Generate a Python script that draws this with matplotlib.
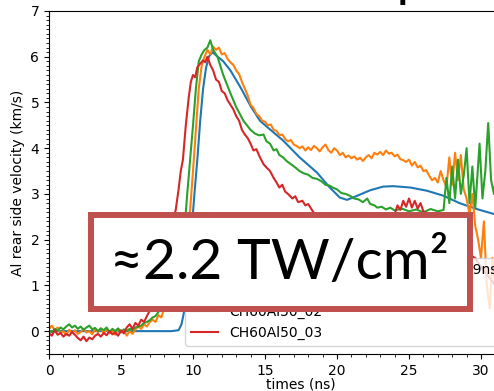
import matplotlib
matplotlib.use("Agg")
import matplotlib.pyplot as plt
from matplotlib.ticker import AutoMinorLocator, MultipleLocator
from matplotlib.patches import Rectangle

# data ################################################################################
sim_t = [0, 6, 8.5, 9.0, 9.2, 9.4, 9.6, 9.8, 10.0, 10.1, 10.3, 10.5, 10.7, 10.9, 11.1, 11.35, 11.6,
         12.1, 12.6, 13.3, 14.0, 14.65, 15.2, 16.25, 17.4, 18.6, 19.5, 20.2, 20.7, 21.4, 22.3, 23.2,
         23.9, 25.1, 26.25, 27.4, 28.5, 29.7, 30.8, 32, 35]
sim_v = [0, 0, 0, 0.02, 0.15, 0.45, 1.0, 1.8, 2.6, 3.0, 3.75, 4.6, 5.3, 5.75, 6.0, 6.1, 6.03,
         5.9, 5.7, 5.33, 4.92, 4.6, 4.45, 4.17, 3.8, 3.47, 3.14, 2.92, 2.87, 2.96, 3.08, 3.16,
         3.17, 3.14, 3.07, 2.96, 2.8, 2.67, 2.57, 2.47, 2.3]

s01_t = [0, 0.2, 0.4, 0.6, 0.8, 1.0, 1.2, 1.4, 1.6, 1.8, 2.0, 2.2, 2.4, 2.6, 2.8, 3.0, 3.2, 3.4, 3.6, 3.8,
         4.0, 4.2, 4.4, 4.6, 4.8, 5.0, 5.2, 5.4, 5.6, 5.8, 6.0, 6.2, 6.4, 6.6, 6.8, 7.0, 7.2, 7.4, 7.6, 7.8,
         8.0, 8.5, 9.0, 9.4, 9.8, 10.0, 10.2, 10.4, 10.6, 10.8, 11.0, 11.2, 11.4, 11.6, 11.8, 12.0, 12.2,
         12.4, 12.6, 12.8, 13.0, 13.2, 13.4, 13.6, 13.8, 14.0, 14.2, 14.4, 14.6, 14.8, 15.0, 15.2, 15.4,
         15.6, 15.8, 16.0, 16.2, 16.4, 16.6, 16.8, 17.0, 17.2, 17.4, 17.6, 17.8, 18.0, 18.2, 18.4, 18.6,
         18.8, 19.0, 19.2, 19.4, 19.6, 19.8, 20.0, 20.2, 20.4, 20.6, 20.8, 21.0, 21.2, 21.4, 21.6, 21.8,
         22.0, 22.2, 22.4, 22.6, 22.8, 23.0, 23.2, 23.4, 23.6, 23.8, 24.0, 24.2, 24.4, 24.6, 24.8, 25.0,
         25.2, 25.4, 25.6, 25.8, 26.0, 26.2, 26.4, 26.6, 26.8, 27.0, 27.2, 27.4, 27.6, 27.8, 28.0, 28.2,
         28.4, 28.6, 28.8, 29.0, 29.2, 29.4, 29.6, 29.8, 30.0, 30.2, 30.4, 30.6, 30.8, 31.0, 31.2, 31.5, 32]
s01_v = [0.05, 0.12, 0.02, 0.08, -0.05, 0.0, -0.08, 0.03, -0.04, 0.02, -0.06, -0.02, 0.05, -0.03, 0.0,
         -0.07, 0.04, -0.02, 0.06, -0.04, 0.03, -0.05, 0.01, -0.08, 0.05, -0.03, 0.02, -0.1, 0.0, -0.06,
         0.04, 0.1, 0.05, 0.15, 0.1, 0.2, 0.25, 0.2, 0.35, 0.3,
         0.5, 0.9, 1.5, 2.1, 2.65, 3.5, 4.4, 5.3, 5.8, 6.0, 6.15, 6.05, 6.22, 6.15, 6.2, 6.05, 6.08,
         5.95, 5.88, 5.82, 5.7, 5.62, 5.45, 5.3, 5.15, 4.95, 4.88, 4.75, 4.7, 4.6, 4.58, 4.5, 4.52,
         4.4, 4.38, 4.28, 4.3, 4.2, 4.15, 4.18, 4.08, 4.05, 4.0, 4.04, 3.95, 4.02, 3.96, 4.05, 4.0,
         3.93, 4.02, 4.08, 3.96, 3.9, 4.0, 3.95, 3.85, 3.9, 3.8, 3.84, 3.78, 3.82, 3.75, 3.79, 3.72,
         3.8, 3.85, 3.78, 3.9, 3.86, 3.92, 3.85, 3.95, 3.88, 3.9, 3.82, 3.86, 3.76, 3.74, 3.7, 3.75,
         3.62, 3.7, 3.58, 3.62, 3.5, 3.52, 3.4, 3.3, 3.35, 3.25, 3.5, 3.3, 3.15, 3.8, 3.2, 3.9,
         3.3, 3.85, 3.1, 2.9, 2.55, 3.0, 2.3, 2.0, 1.6, 2.4, 1.0, 0.5, 1.6, 0.9, 1.8, 1.2, 1.0]

s02_t = [0, 0.2, 0.4, 0.6, 0.8, 1.0, 1.2, 1.4, 1.6, 1.8, 2.0, 2.2, 2.4, 2.6, 2.8, 3.0, 3.2, 3.4, 3.6, 3.8,
         4.0, 4.2, 4.4, 4.6, 4.8, 5.0, 5.2, 5.4, 5.6, 5.8, 6.0, 6.2, 6.4, 6.6, 6.8, 7.0, 7.2, 7.4, 7.6,
         8.0, 8.4, 8.8, 9.2, 9.5, 9.6, 9.8, 10.0, 10.2, 10.4, 10.6, 10.8, 11.0, 11.2, 11.4, 11.7, 11.9,
         12.1, 12.35, 12.6, 12.8, 13.0, 13.25, 13.5, 13.75, 14.0, 14.3, 14.6, 14.9, 15.1, 15.35, 15.6,
         15.8, 16.0, 16.25, 16.5, 16.8, 17.1, 17.4, 17.7, 18.0, 18.3, 18.6, 18.9, 19.2, 19.5, 19.7, 20.0,
         20.3, 20.6, 20.9, 21.2, 21.5, 21.8, 22.1, 22.3, 22.6, 22.8, 23.1, 23.4, 23.7, 24.0, 24.5, 25.0,
         25.5, 26.0, 26.5, 27.0, 27.4, 27.6, 27.8, 28.0, 28.2, 28.4, 28.6, 28.8, 29.0, 29.2, 29.4, 29.6,
         29.9, 30.1, 30.3, 30.5, 30.7, 30.9, 31.1, 31.3, 31.6, 32]
s02_v = [0.02, -0.03, 0.05, 0.0, 0.08, 0.04, 0.1, 0.15, 0.08, 0.12, 0.05, 0.1, 0.03, 0.08, 0.12, 0.04,
         0.07, 0.0, 0.06, 0.02, 0.08, -0.02, 0.05, 0.0, 0.06, -0.03, 0.04, 0.0, 0.05, 0.03, 0.08, 0.1,
         0.12, 0.18, 0.2, 0.24, 0.3, 0.33, 0.42,
         0.7, 1.1, 1.6, 2.2, 2.6, 3.0, 3.75, 4.5, 5.3, 5.9, 6.05, 6.15, 6.2, 6.36, 6.15, 6.0, 5.8,
         5.6, 5.4, 5.2, 5.05, 4.9, 4.75, 4.6, 4.5, 4.4, 4.32, 4.28, 4.3, 4.15, 4.1, 3.95,
         3.98, 3.85, 3.8, 3.72, 3.65, 3.58, 3.5, 3.45, 3.42, 3.35, 3.33, 3.28, 3.2, 3.18, 3.14, 3.1,
         3.02, 3.0, 2.96, 2.9, 2.88, 2.82, 2.9, 2.78, 2.75, 2.7, 2.72, 2.66, 2.7, 2.64, 2.68, 2.62,
         2.66, 2.6, 2.67, 2.62, 2.65, 3.35, 2.8, 3.6, 2.9, 3.75, 3.0, 3.4, 4.0, 2.8, 3.6, 2.7,
         4.1, 2.9, 3.5, 4.55, 3.3, 3.0, 3.6, 2.9, 3.4, 3.1]

s03_t = [0, 0.2, 0.4, 0.6, 0.8, 1.0, 1.2, 1.4, 1.6, 1.8, 2.0, 2.2, 2.4, 2.6, 2.8, 3.0, 3.2, 3.4, 3.6, 3.8,
         4.0, 4.2, 4.4, 4.6, 4.8, 5.0, 5.2, 5.4, 5.6, 5.8, 6.0, 6.2, 6.4, 6.6, 6.8, 7.0, 7.3, 7.6, 7.9,
         8.2, 8.5, 8.8, 9.0, 9.15, 9.3, 9.5, 9.7, 9.85, 10.0, 10.15, 10.3, 10.5, 10.7, 10.85, 11.0, 11.2,
         11.4, 11.6, 11.8, 12.0, 12.2, 12.4, 12.6, 12.8, 13.0, 13.2, 13.4, 13.6, 13.8, 14.0, 14.2, 14.4,
         14.65, 14.9, 15.1, 15.35, 15.6, 15.8, 16.0, 16.2, 16.4, 16.6, 16.9, 17.1, 17.3, 17.6, 17.8, 18.0,
         18.3, 18.6, 19.0, 19.5, 20, 20.5, 21, 21.5, 22, 22.5, 23, 23.5, 24.0, 24.2, 24.4, 24.6, 24.8,
         25.0, 25.2, 25.4, 25.6, 25.8, 26.0, 26.3, 26.6, 27, 27.5, 28, 28.5, 29, 29.6, 30, 30.5, 31, 32]
s03_v = [-0.05, -0.1, 0.02, -0.08, -0.04, -0.12, -0.06, -0.1, -0.02, -0.08, -0.15, -0.2, -0.12, -0.22,
         -0.14, -0.18, -0.1, -0.06, -0.12, -0.04, -0.09, 0.0, -0.07, -0.03, -0.1, 0.02, -0.05, 0.08, 0.15,
         0.05, 0.18, 0.12, 0.25, 0.2, 0.33, 0.45, 0.7, 1.1, 1.5,
         1.9, 2.3, 2.65, 3.1, 3.5, 3.75, 4.5, 5.1, 5.45, 5.6, 5.55, 5.77, 5.85, 5.92, 5.88, 6.0, 5.82,
         5.7, 5.5, 5.45, 5.25, 5.2, 5.05, 4.95, 4.85, 4.7, 4.6, 4.4, 4.3, 4.22, 4.1, 3.95, 3.98,
         3.8, 3.65, 3.58, 3.5, 3.35, 3.25, 3.14, 3.2, 3.05, 3.0, 2.9, 2.95, 2.82, 2.85, 2.75, 2.78,
         2.63, 2.5, 2.45, 2.35, 2.3, 2.2, 2.15, 2.1, 2.05, 2.0, 2.1, 2.3, 2.55, 2.75, 2.65, 2.85, 2.72,
         2.9, 2.7, 2.85, 2.68, 2.8, 2.62, 2.55, 2.4, 2.3, 2.1, 2.0, 1.8, 1.7, 1.6, 1.4, 1.2, 1.0, 0.9]

labels = ["simulation 2.2e12 W/cm2, pulse = 9ns", "CH60Al50_01", "CH60Al50_02", "CH60Al50_03"]

# figure ##############################################################################
W, H = 494, 391
fig = plt.figure(figsize=(W/100, H/100), dpi=100)
# axes run past the right edge of the picture (cropped screenshot)
ax = fig.add_axes([49/W, 37/H, 504/W, 343/H])

ax.plot(sim_t, sim_v, color='C0', lw=1.5, label=labels[0])
ax.plot(s01_t, s01_v, color='C1', lw=1.5, label=labels[1])
ax.plot(s02_t, s02_v, color='C2', lw=1.5, label=labels[2])
ax.plot(s03_t, s03_v, color='C3', lw=1.5, label=labels[3])

ax.set_xlim(0, 35)
ax.set_ylim(-0.5, 7)
ax.xaxis.set_major_locator(MultipleLocator(5))
ax.yaxis.set_major_locator(MultipleLocator(1))
ax.xaxis.set_minor_locator(AutoMinorLocator(5))
ax.yaxis.set_minor_locator(AutoMinorLocator(10))
ax.set_xlabel("times (ns)", labelpad=0)
ax.set_ylabel("Al rear side velocity (km/s)")

ax.legend(loc='lower left', bbox_to_anchor=(185/W, 45/H), bbox_transform=fig.transFigure,
          borderaxespad=0)

# overlay box from the slide
fig.patches.append(Rectangle((91/W, (H-309)/H), 379/W, 94/H, transform=fig.transFigure,
                             facecolor='white', edgecolor='#C0504D', linewidth=4.3, zorder=10))
fig.text(279/W, (H-263)/H, "≈2.2 TW/cm²", family=['Lato', 'DejaVu Sans'], fontsize=41,
         ha='center', va='center', zorder=11)

# bit of the slide title cut off at the top
fig.text(398/W, 1.0 + 1/H, "p", fontsize=20, fontweight='bold', va='baseline', ha='left')

fig.savefig("out.png", dpi=100)
